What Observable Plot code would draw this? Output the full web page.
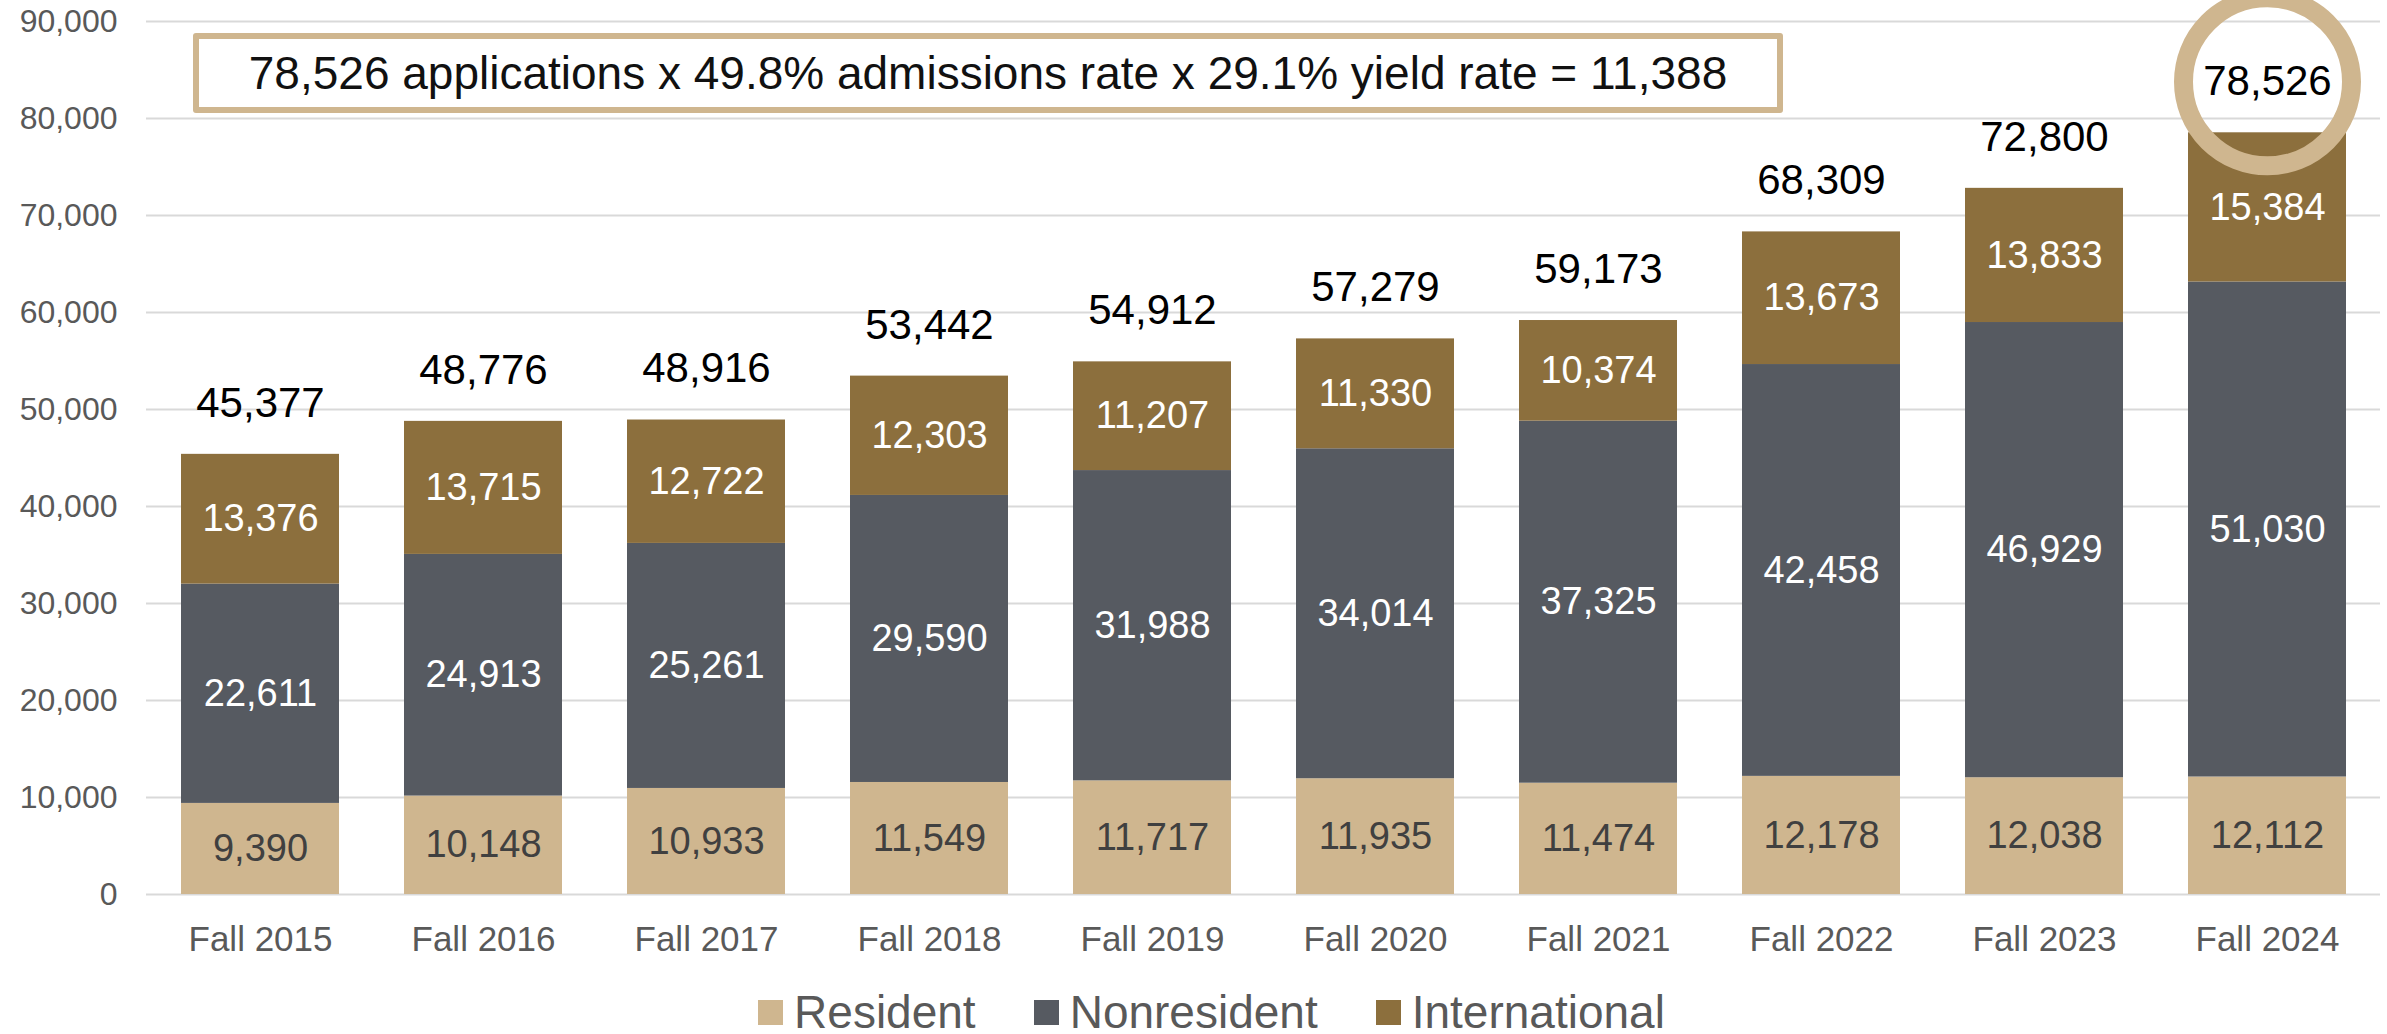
<!DOCTYPE html>
<html>
<head>
<meta charset="utf-8">
<script src="https://cdn.jsdelivr.net/npm/d3@7"></script>
<script src="https://cdn.jsdelivr.net/npm/@observablehq/plot@0.6"></script>
<style>
  html, body { margin: 0; padding: 0; background: #fff; overflow: hidden; }
  body { font-family: "Liberation Sans", Arial, sans-serif; }
  #wrap { position: relative; width: 2387px; }
  #note {
    position: absolute; left: 193px; top: 33px; width: 1590px; height: 80px;
    box-sizing: border-box; border: 6px solid #CFB68F; border-radius: 3px;
    background: #fff; display: flex; align-items: center; justify-content: center;
    font-size: 46px; color: #111;
  }
  #legend {
    width: 2387px; height: 84px; display: flex; align-items: center; justify-content: center;
    box-sizing: border-box; padding-left: 36px; font-size: 46px; color: #595959;
  }
  .item { display: flex; align-items: center; margin: 0 29px; }
  .sw { width: 25px; height: 25px; margin-right: 11px; }
  g[aria-label="y-axis tick label"] { font-size: 32px; }
  g[aria-label="x-axis tick label"] { font-size: 35px; }
</style>
</head>
<body>
<div id="wrap">
  <div id="chart"></div>
  <div id="note"></div>
</div>
<div id="legend"></div>
<script>
const years = ["Fall 2015","Fall 2016","Fall 2017","Fall 2018","Fall 2019","Fall 2020","Fall 2021","Fall 2022","Fall 2023","Fall 2024"];
const resident = [9390,10148,10933,11549,11717,11935,11474,12178,12038,12112];
const nonresident = [22611,24913,25261,29590,31988,34014,37325,42458,46929,51030];
const international = [13376,13715,12722,12303,11207,11330,10374,13673,13833,15384];
const totals = [45377,48776,48916,53442,54912,57279,59173,68309,72800,78526];
const seriesNames = ["Resident","Nonresident","International"];
const seriesColors = ["#CFB68F","#565A61","#8C6F3D"];
const yTicks = [0,10000,20000,30000,40000,50000,60000,70000,80000,90000];
const noteText = "78,526 applications x 49.8% admissions rate x 29.1% yield rate = 11,388";
const highlightYear = "Fall 2024";

const seriesValues = [resident, nonresident, international];
const rows = [];
years.forEach((yr, i) => {
  seriesNames.forEach((s, j) => rows.push({year: yr, series: s, value: seriesValues[j][i]}));
});
const totalRows = years.map((yr, i) => ({year: yr, total: totals[i]}));
const fmt = d3.format(",");

const stackOpts = {x: "year", y: "value", z: "series", order: seriesNames};

const chart = Plot.plot({
  width: 2387,
  height: 970,
  marginTop: 21,
  marginBottom: 76,
  marginLeft: 146,
  marginRight: 7,
  style: {fontFamily: "Liberation Sans, Arial, sans-serif", color: "#595959", background: "#fff"},
  x: {domain: years, paddingInner: 0.2925, paddingOuter: 0.146, label: null},
  y: {domain: [0, 90000], label: null},
  color: {domain: seriesNames, range: seriesColors},
  marks: [
    Plot.ruleY(yTicks, {stroke: "#d9d9d9", strokeWidth: 2}),
    Plot.axisY({ticks: yTicks, tickSize: 0, tickPadding: 29, tickFormat: fmt, fontSize: 32, label: null}),
    Plot.axisX({tickSize: 0, tickPadding: 32, fontSize: 35, label: null}),
    Plot.barY(rows, {...stackOpts, fill: "series"}),
    Plot.text(rows, Plot.stackY({...stackOpts, text: d => d.series === "Resident" ? fmt(d.value) : "", fill: "#404040", fontSize: 38})),
    Plot.text(rows, Plot.stackY({...stackOpts, text: d => d.series !== "Resident" ? fmt(d.value) : "", fill: "#ffffff", fontSize: 38})),
    Plot.dot(totalRows.filter(d => d.year === highlightYear), {x: "year", y: "total", r: 84, dy: -51, fill: "none", stroke: "#CFB68F", strokeWidth: 19}),
    Plot.text(totalRows, {x: "year", y: "total", text: d => fmt(d.total), dy: -51, fill: "#000", fontSize: 42, lineAnchor: "middle"})
  ]
});
document.getElementById("chart").appendChild(chart);
document.getElementById("note").textContent = noteText;

const legend = document.getElementById("legend");
seriesNames.forEach((s, i) => {
  const item = document.createElement("div");
  item.className = "item";
  const sw = document.createElement("span");
  sw.className = "sw";
  sw.style.background = seriesColors[i];
  const lab = document.createElement("span");
  lab.textContent = s;
  item.appendChild(sw);
  item.appendChild(lab);
  legend.appendChild(item);
});
</script>
</body>
</html>
